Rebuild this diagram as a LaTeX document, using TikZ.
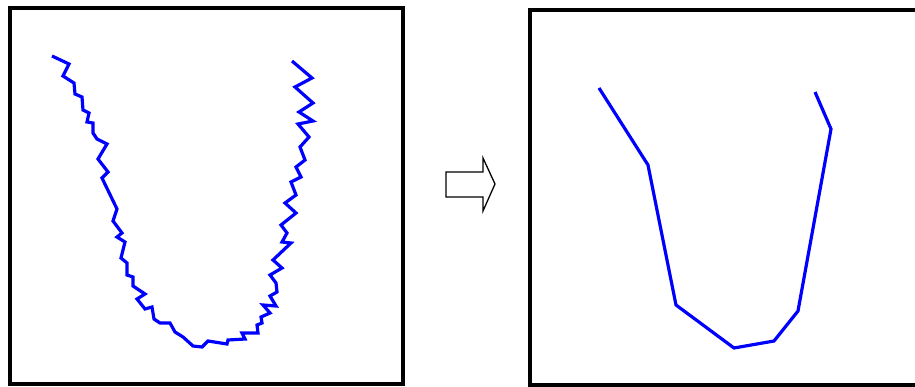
\documentclass[tikz,border=0pt]{standalone}
\usepackage{tikz}
\usetikzlibrary{positioning}

\begin{document}
\begin{tikzpicture}[x=1pt, y=-1pt,
    frame/.style={black, line width=3.6pt},
    trace/.style={blue, line width=3.2pt, line join=miter},
    shiftarrow/.style={black, line width=1.3pt, line join=miter}]
  \useasboundingbox (0,0) rectangle (915,387);

  % raw jagged trace
  \draw[frame] (10,8) rectangle (403,384);
  \draw[trace] (52,56) -- (69,64) -- (63,76) -- (74,83) -- (75,94)
        -- (82,97) -- (83,110) -- (89,113) -- (87,122) -- (93,123)
        -- (93,133) -- (97,139) -- (107,144) -- (98,159) -- (108,172)
        -- (102,178) -- (117,209) -- (113,221) -- (122,233) -- (117,237)
        -- (125,242) -- (121,258) -- (127,263) -- (127,275) -- (133,277)
        -- (133,286) -- (145,294) -- (137,299) -- (145,309) -- (152,307)
        -- (154,319) -- (160,323) -- (170,323) -- (175,332) -- (183,337)
        -- (193,346) -- (202,347) -- (208,341) -- (227,344) -- (228,340)
        -- (245,339) -- (242,333) -- (258,333) -- (257,325) -- (262,323)
        -- (261,317) -- (270,313) -- (263,305) -- (276,306) -- (270,296)
        -- (277,292) -- (276,283) -- (270,275) -- (282,268) -- (273,260)
        -- (291,243) -- (282,242) -- (287,233) -- (281,225) -- (296,213)
        -- (285,203) -- (296,195) -- (291,182) -- (301,177) -- (296,167)
        -- (305,160) -- (300,147) -- (309,137) -- (298,124) -- (313,121)
        -- (299,112) -- (313,103) -- (295,87) -- (312,78) -- (292,61);

  % arrow
  \draw[shiftarrow] (446,172) -- (483,172) -- (483,158) -- (495,184)
        -- (483,211) -- (483,197) -- (446,197) -- cycle;

  % simplified trace
  \draw[frame] (915,10) -- (530,10) -- (530,385) -- (915,385);
  \draw[trace] (599,88) -- (648,165) -- (676,305) -- (734,348)
        -- (774,341) -- (798,311) -- (831,129) -- (815,92);
\end{tikzpicture}
\end{document}
